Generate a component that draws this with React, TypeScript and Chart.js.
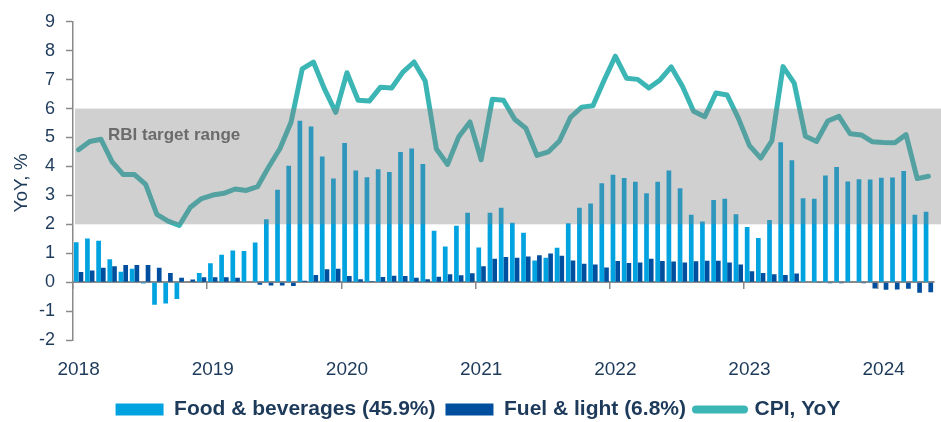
import React, { useEffect, useRef } from 'react';
import { Chart, registerables } from 'chart.js';

Chart.register(...registerables);

const years = ['2018', '2019', '2020', '2021', '2022', '2023', '2024'];
const monthNames = ['Jan', 'Feb', 'Mar', 'Apr', 'May', 'Jun', 'Jul', 'Aug', 'Sep', 'Oct', 'Nov', 'Dec'];
const categories = years.flatMap((y) => monthNames.map((m) => `${m} ${y}`)).slice(0, 77);

const foodBeverages = [
  1.38, 1.51, 1.43, 0.79, 0.36, 0.46, -0.05, -0.78, -0.74, -0.58,
  -0.02, 0.32, 0.65, 0.95, 1.09, 1.08, 1.37, 2.17, 3.19, 4.02,
  5.58, 5.38, 4.34, 3.58, 4.81, 3.86, 3.63, 3.9, 3.81, 4.5,
  4.62, 4.08, 1.78, 1.23, 1.95, 2.4, 1.2, 2.4, 2.57, 2.05,
  1.71, 0.75, 0.84, 1.19, 2.04, 2.57, 2.72, 3.42, 3.71, 3.6,
  3.47, 3.07, 3.47, 3.86, 3.25, 2.33, 2.1, 2.84, 2.88, 2.35,
  1.91, 1.53, 2.15, 4.84, 4.21, 2.9, 2.88, 3.69, 3.98, 3.48,
  3.56, 3.55, 3.61, 3.62, 3.84, 2.33, 2.43,
];

const fuelLight = [
  0.35, 0.4, 0.5, 0.55, 0.59, 0.59, 0.59, 0.5, 0.32, 0.15,
  0.09, 0.17, 0.17, 0.17, 0.15, 0.01, -0.09, -0.12, -0.12, -0.13,
  0.05, 0.25, 0.45, 0.46, 0.21, 0.1, 0.03, 0.18, 0.22, 0.21,
  0.15, 0.1, 0.19, 0.27, 0.24, 0.31, 0.55, 0.81, 0.87, 0.84,
  0.89, 0.93, 0.99, 0.91, 0.75, 0.64, 0.61, 0.51, 0.73, 0.66,
  0.68, 0.81, 0.73, 0.71, 0.68, 0.72, 0.74, 0.74, 0.68, 0.61,
  0.38, 0.32, 0.27, 0.25, 0.3, 0.0, -0.01, -0.04, -0.04, -0.02,
  -0.04, -0.22, -0.26, -0.25, -0.23, -0.37, -0.35,
];

const cpiYoY = [
  4.58, 4.86, 4.94, 4.16, 3.72, 3.72, 3.38, 2.34, 2.11, 1.96,
  2.59, 2.89, 3.01, 3.07, 3.22, 3.17, 3.3, 3.98, 4.61, 5.53,
  7.37, 7.61, 6.67, 5.87, 7.24, 6.29, 6.26, 6.74, 6.71, 7.26,
  7.61, 6.95, 4.6, 4.07, 5.03, 5.54, 4.23, 6.32, 6.29, 5.63,
  5.32, 4.38, 4.5, 4.88, 5.7, 6.05, 6.1, 6.98, 7.81, 7.05,
  7.01, 6.71, 6.99, 7.44, 6.77, 5.91, 5.72, 6.54, 6.47, 5.67,
  4.72, 4.29, 4.88, 7.45, 6.88, 5.04, 4.86, 5.57, 5.73, 5.13,
  5.09, 4.85, 4.83, 4.82, 5.1, 3.58, 3.66,
];

const seriesNames = ['Food & beverages (45.9%)', 'Fuel & light (6.8%)', 'CPI, YoY'];
const targetRange = [2, 6];
const bandLabel = 'RBI target range';
const yTitle = 'YoY, %';
const yMin = -2;
const yMax = 9;

const FONT = "'Liberation Sans', Arial, Helvetica, sans-serif";
const NAVY = '#1d3a5a';
const AXIS_GREY = '#8a8a8a';
const FOOD_COLOR = '#00a3e0';
const FUEL_COLOR = '#004f9e';
const CPI_COLOR = '#3cb5b5';

const bandPlugin = {
  id: 'rbiBand',
  afterDatasetsDraw(chart: any) {
    const { ctx, chartArea, scales } = chart;
    const y = scales.y;
    const top = y.getPixelForValue(targetRange[1]);
    const bottom = y.getPixelForValue(targetRange[0]);
    ctx.save();
    ctx.fillStyle = 'rgba(128,128,128,0.37)';
    ctx.fillRect(chartArea.left + 2, top, chart.width - chartArea.left - 2, bottom - top);
    ctx.fillStyle = '#6b6b6b';
    ctx.font = `bold 17px ${FONT}`;
    ctx.textBaseline = 'alphabetic';
    ctx.textAlign = 'left';
    ctx.fillText(bandLabel, chartArea.left + 35, y.getPixelForValue(4.93));
    ctx.restore();
  },
};

const yTitlePlugin = {
  id: 'yTitle',
  afterDraw(chart: any) {
    const { ctx, chartArea } = chart;
    ctx.save();
    ctx.translate(22, (chartArea.top + chartArea.bottom) / 2 + 2);
    ctx.rotate(-Math.PI / 2);
    ctx.textAlign = 'center';
    ctx.textBaseline = 'middle';
    ctx.font = `19px ${FONT}`;
    ctx.fillStyle = NAVY;
    ctx.fillText(yTitle, 0, 0);
    ctx.restore();
  },
};

export default function App() {
  const ref = useRef<HTMLCanvasElement>(null);

  useEffect(() => {
    const canvas = ref.current;
    if (!canvas) return;
    const chart = new Chart(canvas, {
      type: 'bar',
      data: {
        labels: categories,
        datasets: [
          {
            type: 'bar',
            label: seriesNames[0],
            data: foodBeverages,
            backgroundColor: FOOD_COLOR,
            borderWidth: 0,
            categoryPercentage: 0.84,
            barPercentage: 1.0,
            order: 2,
          },
          {
            type: 'bar',
            label: seriesNames[1],
            data: fuelLight,
            backgroundColor: FUEL_COLOR,
            borderWidth: 0,
            categoryPercentage: 0.84,
            barPercentage: 1.0,
            order: 2,
          },
          {
            type: 'line',
            label: seriesNames[2],
            data: cpiYoY,
            borderColor: CPI_COLOR,
            backgroundColor: CPI_COLOR,
            borderWidth: 5,
            pointRadius: 0,
            tension: 0,
            borderJoinStyle: 'round',
            borderCapStyle: 'round',
            order: 0,
          } as any,
        ],
      },
      options: {
        responsive: false,
        animation: false,
        events: [],
        layout: { padding: { left: 22, right: 7, top: 20, bottom: -8 } },
        scales: {
          x: {
            type: 'category',
            position: 'bottom',
            offset: true,
            grid: { display: false },
            border: { display: false },
            ticks: {
              autoSkip: false,
              maxRotation: 0,
              minRotation: 0,
              padding: 10,
              color: NAVY,
              font: { family: FONT, size: 19 },
              callback: (_v: any, index: number) => (index % 12 === 0 ? years[index / 12] : ''),
            },
            afterFit: (s: any) => {
              s.height = 49;
            },
          },
          x2: {
            type: 'category',
            labels: categories,
            position: { y: 0 } as any,
            offset: true,
            grid: {
              display: true,
              drawOnChartArea: false,
              drawTicks: true,
              tickLength: 6,
              offset: true,
              lineWidth: 1.5,
              color: (c: any) => (c.index % 12 === 0 ? AXIS_GREY : 'rgba(0,0,0,0)'),
            },
            border: { display: true, color: AXIS_GREY, width: 2 },
            ticks: { display: false, autoSkip: false },
          },
          y: {
            type: 'linear',
            min: yMin,
            max: yMax,
            ticks: {
              stepSize: 1,
              padding: 11,
              color: NAVY,
              font: { family: FONT, size: 18 },
            },
            grid: {
              display: true,
              drawOnChartArea: false,
              drawTicks: true,
              tickLength: 7,
              tickColor: AXIS_GREY,
              tickWidth: 1.5,
            },
            border: { display: true, color: AXIS_GREY, width: 1.5 },
            afterFit: (s: any) => {
              s.width = 51;
            },
          },
        },
        plugins: {
          tooltip: { enabled: false },
          legend: {
            display: true,
            position: 'bottom',
            labels: {
              color: NAVY,
              font: { family: FONT, size: 21, weight: 'bold' },
              usePointStyle: true,
              pointStyleWidth: 48,
              boxHeight: 12,
              padding: 10,
              sort: (a: any, b: any) => a.datasetIndex - b.datasetIndex,
              generateLabels: (ch: any) => {
                const items = (Chart.defaults.plugins.legend.labels as any).generateLabels(ch);
                return items.map((it: any) =>
                  it.datasetIndex === 2
                    ? { ...it, pointStyle: 'line', lineWidth: 8, lineCap: 'round', strokeStyle: CPI_COLOR, fillStyle: CPI_COLOR }
                    : { ...it, pointStyle: 'rect', lineWidth: 0 }
                );
              },
            },
          },
        },
      },
      plugins: [bandPlugin, yTitlePlugin],
    } as any);
    return () => chart.destroy();
  }, []);

  return (
    <div style={{ position: 'absolute', left: 0, top: 0, width: 941, height: 422 }}>
      <canvas ref={ref} width={941} height={422} style={{ display: 'block', width: 941, height: 422 }} />
    </div>
  );
}
